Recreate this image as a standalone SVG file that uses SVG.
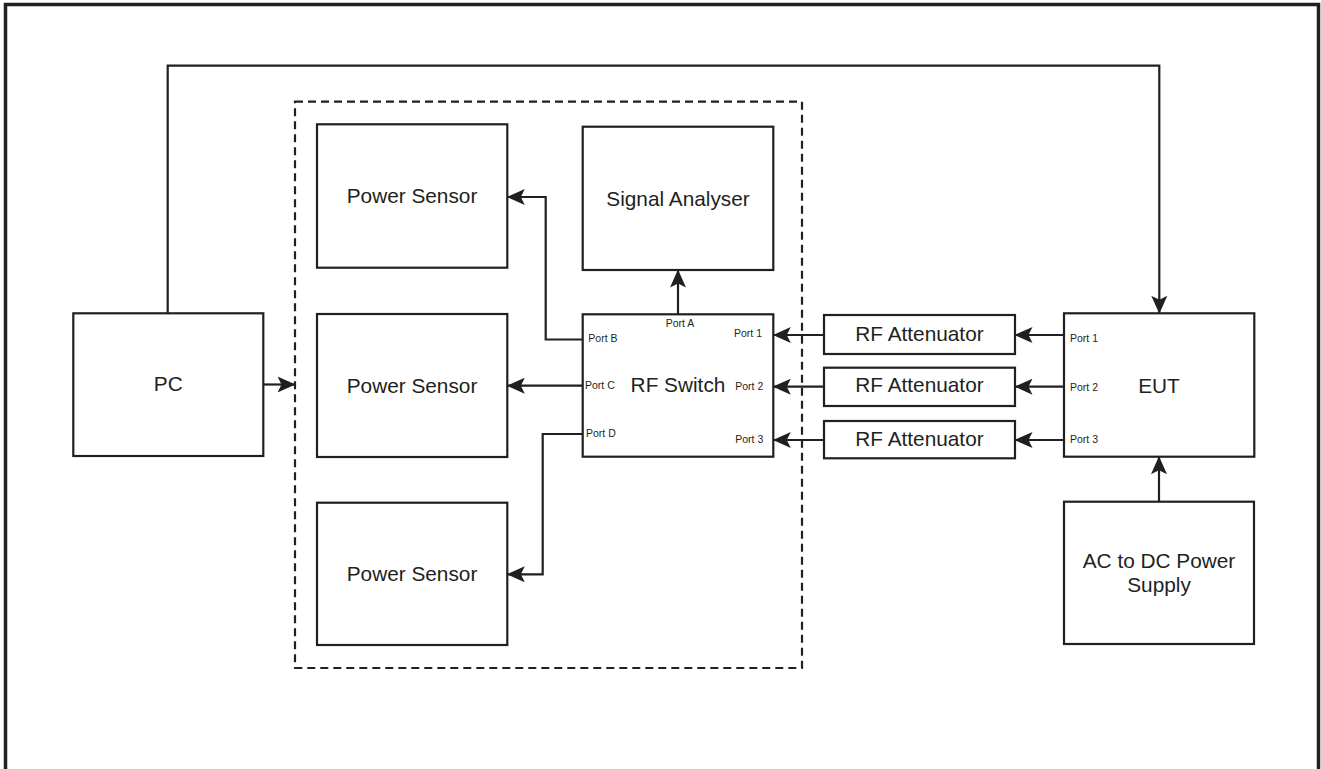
<svg xmlns="http://www.w3.org/2000/svg" width="1321" height="769" viewBox="0 0 1321 769">
<style>
.box{fill:#fff;stroke:#231f20;stroke-width:2.2}
.lbl{font-family:"Liberation Sans",Arial,sans-serif;font-size:20.8px;fill:#231f20;text-anchor:middle}
.port{font-family:"Liberation Sans",Arial,sans-serif;font-size:10.5px;fill:#231f20}
.wire{fill:none;stroke:#231f20;stroke-width:2.2}
</style>
<defs>
<marker id="ah" markerUnits="userSpaceOnUse" markerWidth="18" markerHeight="16" viewBox="0 0 18 16" refX="17.5" refY="8" orient="auto">
<path d="M18,8 L0,0 L4,8 L0,16 z" fill="#231f20"/>
</marker>
</defs>
<rect x="0" y="0" width="1321" height="769" fill="#fff"/>
<rect id="frame" x="5.5" y="4.5" width="1313" height="800" fill="none" stroke="#231f20" stroke-width="3.5"/>
<rect id="group" x="295" y="101.7" width="507" height="566.3" fill="none" stroke="#231f20" stroke-width="2.2" stroke-dasharray="8,5"/>

<g id="pc"><rect class="box" x="73.3" y="313.3" width="190" height="142.7"/><text class="lbl" x="168.3" y="390.5">PC</text></g>
<g id="ps1"><rect class="box" x="317" y="124.3" width="190.3" height="143.4"/><text class="lbl" x="412" y="203.3">Power Sensor</text></g>
<g id="ps2"><rect class="box" x="317" y="314" width="190.3" height="143"/><text class="lbl" x="412" y="392.7">Power Sensor</text></g>
<g id="ps3"><rect class="box" x="317" y="502.7" width="190.3" height="142.3"/><text class="lbl" x="412" y="581">Power Sensor</text></g>
<g id="sa"><rect class="box" x="582.7" y="126.7" width="190.6" height="143.3"/><text class="lbl" x="678" y="205.6">Signal Analyser</text></g>
<g id="sw"><rect class="box" x="582.7" y="314.3" width="190.6" height="142.4"/><text class="lbl" x="678" y="392.3">RF Switch</text>
<text class="port" x="680" y="326.7" text-anchor="middle">Port A</text>
<text class="port" x="588.3" y="341.7">Port B</text>
<text class="port" x="585" y="389.3">Port C</text>
<text class="port" x="586" y="436.7">Port D</text>
<text class="port" x="762" y="336.7" text-anchor="end">Port 1</text>
<text class="port" x="763.3" y="390" text-anchor="end">Port 2</text>
<text class="port" x="763.3" y="442.7" text-anchor="end">Port 3</text></g>
<g id="att1"><rect class="box" x="824" y="315" width="191" height="39"/><text class="lbl" x="919.5" y="340.7">RF Attenuator</text></g>
<g id="att2"><rect class="box" x="824" y="367.7" width="191" height="38.3"/><text class="lbl" x="919.5" y="392.3">RF Attenuator</text></g>
<g id="att3"><rect class="box" x="824" y="421" width="191" height="37.3"/><text class="lbl" x="919.5" y="445.7">RF Attenuator</text></g>
<g id="eut"><rect class="box" x="1064" y="313.3" width="190.3" height="143.4"/><text class="lbl" x="1159" y="392.7">EUT</text>
<text class="port" x="1070" y="341.7">Port 1</text>
<text class="port" x="1070" y="390.7">Port 2</text>
<text class="port" x="1070" y="443.3">Port 3</text></g>
<g id="psu"><rect class="box" x="1064" y="501.7" width="190" height="142.3"/><text class="lbl" x="1159" y="567.5">AC to DC Power</text><text class="lbl" x="1159" y="591.7">Supply</text></g>

<g id="connectors">
<path class="wire" d="M167.7,313.3 V65.7 H1159.3 V313.3" marker-end="url(#ah)"/>
<path class="wire" d="M263.3,384.5 H295" marker-end="url(#ah)"/>
<path class="wire" d="M678,314.3 V270" marker-end="url(#ah)"/>
<path class="wire" d="M582.7,339.5 H545.7 V197 H507.3" marker-end="url(#ah)"/>
<path class="wire" d="M582.7,385.7 H507.3" marker-end="url(#ah)"/>
<path class="wire" d="M582.7,434 H542.7 V574.3 H507.3" marker-end="url(#ah)"/>
<path class="wire" d="M824,335 H773.3" marker-end="url(#ah)"/>
<path class="wire" d="M824,386.7 H773.3" marker-end="url(#ah)"/>
<path class="wire" d="M824,440 H773.3" marker-end="url(#ah)"/>
<path class="wire" d="M1064,335 H1015" marker-end="url(#ah)"/>
<path class="wire" d="M1064,386.7 H1015" marker-end="url(#ah)"/>
<path class="wire" d="M1064,440 H1015" marker-end="url(#ah)"/>
<path class="wire" d="M1159,501.7 V456.7" marker-end="url(#ah)"/>
</g>
</svg>
